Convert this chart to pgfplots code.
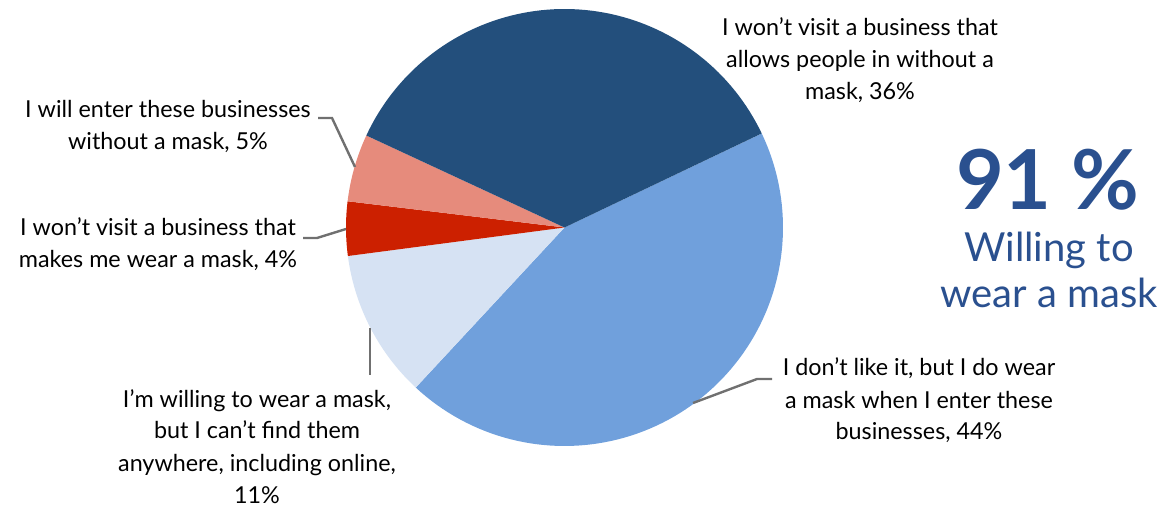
\documentclass[border=0pt]{standalone}
\usepackage{pgfplots}
\usepackage{pgfplotstable}
\pgfplotsset{compat=1.18}
\usepackage{fontspec}
\setmainfont{Lato}
\definecolor{cA}{RGB}{112,160,220}
\definecolor{cB}{RGB}{214,226,243}
\definecolor{cC}{RGB}{204,32,0}
\definecolor{cD}{RGB}{230,139,124}
\definecolor{cE}{RGB}{35,79,124}
\definecolor{bigblue}{RGB}{42,80,143}
\definecolor{leader}{RGB}{112,112,112}
% share of answers, % (clockwise from the start angle)
\pgfplotstableread{
slice value
dontlike 44
cantfind 11
wontmakes 4
willenter 5
wontallows 36
}\piedata
\newcommand\startangle{25.5}
\begin{document}
\begin{tikzpicture}
\pgfplotstablegetelem{0}{value}\of\piedata \let\vA\pgfplotsretval
\pgfplotstablegetelem{1}{value}\of\piedata \let\vB\pgfplotsretval
\pgfplotstablegetelem{2}{value}\of\piedata \let\vC\pgfplotsretval
\pgfplotstablegetelem{3}{value}\of\piedata \let\vD\pgfplotsretval
\pgfplotstablegetelem{4}{value}\of\piedata \let\vE\pgfplotsretval
\pgfmathsetmacro\aA{\startangle}
\pgfmathsetmacro\aB{\aA-3.6*\vA}
\pgfmathsetmacro\aC{\aB-3.6*\vB}
\pgfmathsetmacro\aD{\aC-3.6*\vC}
\pgfmathsetmacro\aE{\aD-3.6*\vD}
\pgfmathsetmacro\aF{\aE-3.6*\vE}
\begin{axis}[
  name=ax,
  width=870pt, height=380.25pt, scale only axis,
  xmin=0, xmax=1160, ymin=0, ymax=507,
  hide axis, clip=false,
]
\def\cx{564.5}\def\cy{279.5}\def\r{218.5}
% y is measured from the bottom: screen y 227.5 -> 507-227.5 = 279.5
\addplot[fill=cA, draw=none, domain=\aB:\aA, samples=90, variable=\t] ({\cx+\r*cos(\t)},{\cy+\r*sin(\t)}) -- (\cx,\cy) -- cycle;
\addplot[fill=cB, draw=none, domain=\aC:\aB, samples=40, variable=\t] ({\cx+\r*cos(\t)},{\cy+\r*sin(\t)}) -- (\cx,\cy) -- cycle;
\addplot[fill=cC, draw=none, domain=\aD:\aC, samples=20, variable=\t] ({\cx+\r*cos(\t)},{\cy+\r*sin(\t)}) -- (\cx,\cy) -- cycle;
\addplot[fill=cD, draw=none, domain=\aE:\aD, samples=20, variable=\t] ({\cx+\r*cos(\t)},{\cy+\r*sin(\t)}) -- (\cx,\cy) -- cycle;
\addplot[fill=cE, draw=none, domain=\aF:\aE, samples=80, variable=\t] ({\cx+\r*cos(\t)},{\cy+\r*sin(\t)}) -- (\cx,\cy) -- cycle;
% leader lines (screen y converted: 507 - y)
\draw[leader, line width=1.8pt] (318,389) -- (332,389) -- (355,340);
\draw[leader, line width=1.8pt] (303,269) -- (317,269) -- (346,278);
\draw[leader, line width=1.8pt] (370,179) -- (370,132);
\draw[leader, line width=1.8pt] (693,104) -- (757,128) -- (772,128);
% labels: anchor=base is the baseline of the last line
\tikzset{lbl/.style={align=center, anchor=base, font=\fontsize{17.5}{24}\selectfont, text=black, inner sep=0pt}}
\node[lbl] at (860,407) {I won’t visit a business that\\allows people in without a\\mask, \vE\%};
\node[lbl] at (168,357) {I will enter these businesses\\without a mask, \vD\%};
\node[lbl] at (158,239) {I won’t visit a business that\\makes me wear a mask, \vC\%};
\node[lbl] at (257,4) {I’m willing to wear a mask,\\but I can’t find them\\anywhere, including online,\\\vB\%};
\node[lbl] at (919,67) {I don’t like it, but I do wear\\a mask when I enter these\\businesses, \vA\%};
\node[anchor=base, inner sep=0pt, text=bigblue, font=\fontsize{62}{70}\selectfont\bfseries] at (1048,297) {9\hspace{-1pt}1\hspace{15pt}\%};
\node[anchor=base, inner sep=0pt, text=bigblue, align=center, font=\fontsize{30}{34.5}\selectfont] at (1049,199) {Willing to\\wear a mask};
\end{axis}
\pgfresetboundingbox
\useasboundingbox (ax.south west) rectangle (ax.north east);
\end{tikzpicture}
\end{document}
